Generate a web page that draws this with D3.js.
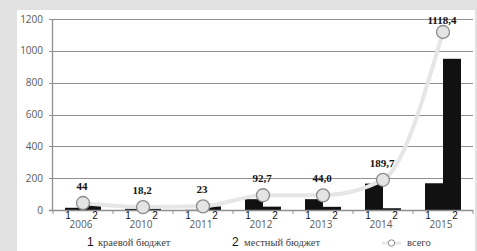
<!DOCTYPE html>
<html>
<head>
<meta charset="utf-8">
<title>Бюджет 2006-2015</title>
<style>
  body { margin: 0; background: #e1e1e1; }
  svg { display: block; }
  .grid line { stroke: #8f8f8f; stroke-width: 1.3px; shape-rendering: crispEdges; }
  .ylab { font-family: 'Open Sans', sans-serif; font-size: 10px; fill: #595959; }
  .xlab { font-family: 'Open Sans', sans-serif; font-size: 10px; fill: #595959; }
  .sub { font-family: 'Liberation Sans', sans-serif; font-size: 10px; fill: #111; }
  .val { font-family: 'Liberation Serif', serif; font-size: 11px; font-weight: bold; fill: #111; }
  .leg { font-family: 'Liberation Serif', serif; font-size: 10.5px; fill: #444; }
  .legnum { font-family: 'Liberation Sans', sans-serif; font-size: 12px; fill: #111; }
</style>
</head>
<body>
<div id="chart"></div>
<script src="https://cdnjs.cloudflare.com/ajax/libs/d3/7.8.5/d3.min.js"></script>
<script>

// data
var years    = ["2006", "2010", "2011", "2012", "2013", "2014", "2015"];
var kraevoy  = [14, 8, 1, 68, 68, 166, 168];      // 1 - краевой бюджет
var mestny   = [30, 10, 22, 21, 20, 11, 950];     // 2 - местный бюджет
var vsego    = [44, 18.2, 23, 92.7, 92, 189.7, 1118.4];
var vsegoLab = ["44", "18,2", "23", "92,7", "44,0", "189,7", "1118,4"];
var yTicks   = [0, 200, 400, 600, 800, 1000, 1200];
var subLabels = ["1", "2"];
var legendNames = ["краевой бюджет", "местный бюджет", "всего"];

var W = 477, H = 251;
var plotL = 53, plotR = 473, plotT = 19, plotB = 210;

var svg = d3.select("#chart").append("svg")
    .attr("width", W).attr("height", H);

// white panel
svg.append("rect")
    .attr("x", 17).attr("y", 10)
    .attr("width", 458).attr("height", H - 10)
    .attr("fill", "#fff");

var x = d3.scaleBand().domain(years).range([plotL, plotR]);
var y = d3.scaleLinear().domain([0, 1200]).range([plotB, plotT]);
var barW = 18;

// gridlines + y labels
var grid = svg.append("g").attr("class", "grid");
grid.selectAll("line").data(yTicks.filter(function(d) { return d > 0; }))
  .enter().append("line")
    .attr("x1", plotL - 4).attr("x2", plotR)
    .attr("y1", function(d) { return Math.round(y(d)) + 0.5; })
    .attr("y2", function(d) { return Math.round(y(d)) + 0.5; });

svg.selectAll(".ylab").data(yTicks).enter().append("text")
    .attr("class", "ylab")
    .attr("x", 43)
    .attr("y", function(d) { return y(d) + 3.5; })
    .attr("text-anchor", "end")
    .text(function(d) { return d; });

// bars
var cx = function(i) { return x(years[i]) + x.bandwidth() / 2; };

svg.selectAll(".b1").data(kraevoy).enter().append("rect")
    .attr("x", function(d, i) { return cx(i) - barW; })
    .attr("y", function(d) { return y(d); })
    .attr("width", barW)
    .attr("height", function(d) { return plotB - y(d); })
    .attr("fill", "#111");

svg.selectAll(".b2").data(mestny).enter().append("rect")
    .attr("x", function(d, i) { return cx(i); })
    .attr("y", function(d) { return y(d); })
    .attr("width", barW)
    .attr("height", function(d) { return plotB - y(d); })
    .attr("fill", "#111");

// axes lines
svg.append("line")
    .attr("x1", plotL - 0.5).attr("x2", plotL - 0.5)
    .attr("y1", plotT).attr("y2", plotB)
    .attr("stroke", "#8f8f8f").attr("stroke-width", 1.3);
svg.append("g").selectAll("line").data(yTicks).enter().append("line")
    .attr("x1", plotL - 4).attr("x2", plotL)
    .attr("y1", function(d) { return Math.round(y(d)) + 0.5; })
    .attr("y2", function(d) { return Math.round(y(d)) + 0.5; })
    .attr("stroke", "#8f8f8f");
svg.append("line")
    .attr("x1", plotL - 4).attr("x2", plotR)
    .attr("y1", plotB + 0.5).attr("y2", plotB + 0.5)
    .attr("stroke", "#8f8f8f").attr("stroke-width", 1.3);
svg.append("g").selectAll("line").data(years.concat(["end"])).enter().append("line")
    .attr("x1", function(d, i) { return plotL + i * x.bandwidth(); })
    .attr("x2", function(d, i) { return plotL + i * x.bandwidth(); })
    .attr("y1", plotB).attr("y2", plotB + 4)
    .attr("stroke", "#8f8f8f");

// sub-category labels and years
var sub = d3.scalePoint().domain(subLabels).range([-15, 12]);
years.forEach(function(yr, i) {
  subLabels.forEach(function(s) {
    svg.append("text").attr("class", "sub")
        .attr("x", cx(i) + sub(s)).attr("y", 219)
        .attr("text-anchor", "middle").text(s);
  });
});
svg.selectAll(".xlab").data(years).enter().append("text")
    .attr("class", "xlab")
    .attr("x", function(d) { return x(d) + x.bandwidth() / 2 - 2; })
    .attr("y", 228)
    .attr("text-anchor", "middle")
    .text(function(d) { return d; });

// total line
var line = d3.line()
    .x(function(d, i) { return cx(i); })
    .y(function(d) { return y(d); })
    .curve(d3.curveMonotoneX);

svg.append("path").datum(vsego)
    .attr("d", line)
    .attr("fill", "none")
    .attr("stroke", "#e6e6e6")
    .attr("stroke-width", 4);

svg.selectAll(".dot").data(vsego).enter().append("circle")
    .attr("cx", function(d, i) { return cx(i); })
    .attr("cy", function(d) { return y(d); })
    .attr("r", 6.5)
    .attr("fill", "#e4e4e4")
    .attr("stroke", "#8c8c8c")
    .attr("stroke-width", 1.3);

svg.selectAll(".val").data(vsego).enter().append("text")
    .attr("class", "val")
    .attr("x", function(d, i) { return cx(i) - 1; })
    .attr("y", function(d) { return Math.max(y(d) - 13, 24); })
    .attr("text-anchor", "middle")
    .text(function(d, i) { return vsegoLab[i]; });

// legend
var leg = svg.append("g");
leg.append("text").attr("class", "legnum").attr("x", 87).attr("y", 246).text("1");
leg.append("text").attr("class", "leg").attr("x", 98).attr("y", 246).text(legendNames[0]);
leg.append("text").attr("class", "legnum").attr("x", 232).attr("y", 246).text("2");
leg.append("text").attr("class", "leg").attr("x", 244).attr("y", 246).text(legendNames[1]);
leg.append("line").attr("x1", 382).attr("x2", 401).attr("y1", 243).attr("y2", 243)
    .attr("stroke", "#e6e6e6").attr("stroke-width", 3);
leg.append("circle").attr("cx", 391.5).attr("cy", 243).attr("r", 3.2)
    .attr("fill", "#fff").attr("stroke", "#8c8c8c").attr("stroke-width", 1);
leg.append("text").attr("class", "leg").attr("x", 407).attr("y", 246).text(legendNames[2]);

</script>
</body>
</html>
